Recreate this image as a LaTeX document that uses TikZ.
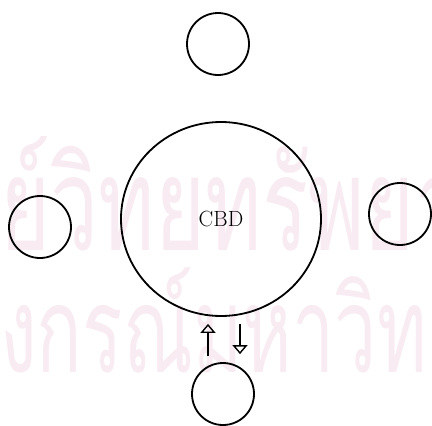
\documentclass[tikz,border=0pt]{standalone}
\usepackage{fontspec}
\newfontfamily\thaifont[Script=Thai]{Loma}
\usetikzlibrary{arrows.meta,shapes.geometric}
\definecolor{wm}{RGB}{249,235,242}
\begin{document}
\begin{tikzpicture}[x=1pt,y=-1pt,
  ring/.style={circle,draw,line width=1.8pt,inner sep=0pt,minimum size=62pt},
  hub/.style={ellipse,draw,line width=1.8pt,inner sep=0pt,
    minimum width=200pt,minimum height=194pt,font=\fontsize{22}{26}\selectfont},
  flow/.style={line width=1.6pt,-{Triangle[open,length=9pt,width=15pt,line width=1.4pt]}},
  wmtext/.style={text=wm,inner sep=0pt,font=\thaifont\fontsize{130}{130}\selectfont}]
\useasboundingbox (0,0) rectangle (432,426);
% background watermark lines
\begin{scope}
  \clip (0,0) rectangle (432,426);
  \node[wmtext,anchor=base east] at (0,250) {\scalebox{0.66}[1]{ศูน}};
  \node[wmtext,anchor=base west] at (0,250) {\scalebox{0.66}[1]{ย์วิทยทรัพยากร}};
  \node[wmtext,anchor=base east] at (0,372) {\scalebox{0.58}[0.92]{จุฬาล}};
  \node[wmtext,anchor=base west] at (0,372) {\scalebox{0.58}[0.92]{งกรณ์มหาวิทยาลัย}};
\end{scope}
% central district and the four surrounding centres
\node[hub] (cbd) at (221,219) {CBD};
\node[ring] (top) at (218,44) {};
\node[ring] (left) at (40,227) {};
\node[ring] (right) at (400,214) {};
\node[ring] (bot) at (223,394) {};
% two-way flow between the CBD and the lower centre
\coordinate (u0) at ([xshift=-15pt,yshift=6pt]bot.north);
\coordinate (d1) at ([xshift=17pt,yshift=8pt]bot.north);
\draw[flow] (u0) -- ([yshift=-7pt]cbd.south -| u0);
\draw[flow] ([yshift=-7pt]cbd.south -| d1) -- (d1);
\end{tikzpicture}
\end{document}
